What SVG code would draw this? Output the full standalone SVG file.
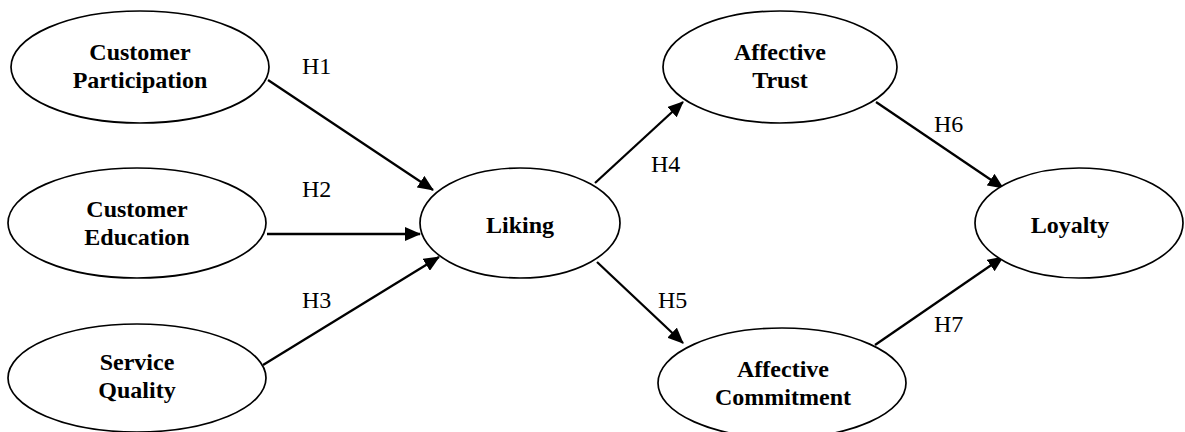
<svg xmlns="http://www.w3.org/2000/svg" width="1185" height="432" viewBox="0 0 1185 432">
<style>
.node ellipse{fill:#fff;stroke:#000;stroke-width:1.7}
.lbl{font-family:"Liberation Serif","Times New Roman",serif;font-weight:bold;font-size:24px;text-anchor:middle;fill:#000}
.h{font-family:"Liberation Serif","Times New Roman",serif;font-size:24px;fill:#000}
.edge{stroke:#000;stroke-width:2.3;fill:none;marker-end:url(#arr)}
</style>
<defs>
<marker id="arr" markerUnits="userSpaceOnUse" markerWidth="16" markerHeight="14" refX="15" refY="7" orient="auto">
<path d="M0,0 L16,7 L0,14 z" fill="#000"/>
</marker>
</defs>
<rect width="1185" height="432" fill="#fff"/>
<g id="connectors">
<line class="edge" x1="268" y1="80" x2="433" y2="190"/>
<line class="edge" x1="267" y1="234" x2="420" y2="234"/>
<line class="edge" x1="263" y1="365" x2="439" y2="257"/>
<line class="edge" x1="595" y1="183" x2="683" y2="102"/>
<line class="edge" x1="597" y1="262" x2="683" y2="343"/>
<line class="edge" x1="876" y1="102" x2="1003" y2="188"/>
<line class="edge" x1="875" y1="345" x2="1003" y2="257"/>
<text class="h" x="302" y="74">H1</text>
<text class="h" x="302" y="197">H2</text>
<text class="h" x="302" y="308">H3</text>
<text class="h" x="651" y="172">H4</text>
<text class="h" x="658" y="308">H5</text>
<text class="h" x="934" y="132">H6</text>
<text class="h" x="934" y="332">H7</text>
</g>
<g id="customer-participation" class="node">
<ellipse cx="140" cy="67" rx="129" ry="56"/>
<text class="lbl" x="140" y="60">Customer</text>
<text class="lbl" x="140" y="88">Participation</text>
</g>
<g id="customer-education" class="node">
<ellipse cx="137" cy="223" rx="129" ry="55"/>
<text class="lbl" x="137" y="217">Customer</text>
<text class="lbl" x="137" y="245">Education</text>
</g>
<g id="service-quality" class="node">
<ellipse cx="137" cy="378" rx="129" ry="54"/>
<text class="lbl" x="137" y="370">Service</text>
<text class="lbl" x="137" y="398">Quality</text>
</g>
<g id="liking" class="node">
<ellipse cx="520" cy="223" rx="100" ry="55"/>
<text class="lbl" x="520" y="233">Liking</text>
</g>
<g id="affective-trust" class="node">
<ellipse cx="780" cy="67" rx="117" ry="56"/>
<text class="lbl" x="780" y="60">Affective</text>
<text class="lbl" x="780" y="88">Trust</text>
</g>
<g id="affective-commitment" class="node">
<ellipse cx="782" cy="383" rx="124" ry="55"/>
<text class="lbl" x="783" y="377">Affective</text>
<text class="lbl" x="783" y="405">Commitment</text>
</g>
<g id="loyalty" class="node">
<ellipse cx="1079" cy="223" rx="104" ry="55"/>
<text class="lbl" x="1070" y="233">Loyalty</text>
</g>
</svg>
